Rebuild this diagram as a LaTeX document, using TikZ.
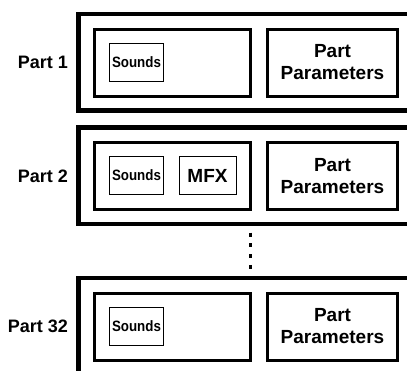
\documentclass[tikz,border=0pt]{standalone}
\usepackage{fontspec}
\setmainfont{Liberation Sans}
\newfontfamily\sndfont[FakeStretch=0.89]{Liberation Sans}
\begin{document}
\begin{tikzpicture}[x=1pt,y=-1pt,
  outerbox/.style={draw, line width=4.5pt, rectangle, inner sep=0pt, outer sep=0pt, minimum width=351.5pt, minimum height=96.5pt},
  innerbox/.style={draw, line width=3pt, rectangle, inner sep=0pt, outer sep=0pt, minimum width=156.5pt, minimum height=67pt},
  parambox/.style={draw, line width=3pt, rectangle, inner sep=0pt, outer sep=0pt, minimum width=130pt, minimum height=67pt, align=center, font=\fontsize{19}{22}\selectfont\bfseries},
  soundbox/.style={draw, line width=0.9pt, rectangle, inner sep=0pt, outer sep=0pt, minimum width=54pt, minimum height=38pt, font=\fontsize{15}{18}\sndfont\bfseries},
  mfxbox/.style={draw, line width=0.9pt, rectangle, inner sep=0pt, outer sep=0pt, minimum width=57pt, minimum height=38pt, font=\fontsize{19}{22}\selectfont\bfseries},
  partlabel/.style={anchor=east, inner sep=0pt, font=\fontsize{18}{21}\selectfont\bfseries}]
\useasboundingbox (0,0) rectangle (407,370);
\clip (0,0) rectangle (407,370);
% Part 1
\node[outerbox] (o1) at (254.25,62.25) {};
\node[innerbox] (i1) at (172.25,62.5) {};
\node[parambox] (p1) at (332.5,62.5) {Part\\Parameters};
\node[soundbox] (s1) at (136.5,62) {Sounds};
\node[partlabel] (l1) at (68,62.5) {Part 1};
% Part 2
\node[outerbox] (o2) at (254.25,175.75) {};
\node[innerbox] (i2) at (172.25,176) {};
\node[parambox] (p2) at (332.5,176) {Part\\Parameters};
\node[soundbox] (s2) at (136.5,175.5) {Sounds};
\node[mfxbox] (m2) at (207.5,175.5) {MFX};
\node[partlabel] (l2) at (68,176) {Part 2};
% Part 32
\node[outerbox] (o3) at (254.25,326.25) {};
\node[innerbox] (i3) at (172.25,326.5) {};
\node[parambox] (p3) at (332.5,326.5) {Part\\Parameters};
\node[soundbox] (s3) at (136.5,326) {Sounds};
\node[partlabel] (l3) at (68,326.5) {Part 32};
% dots
\coordinate (d1) at (250.5,232.7);
\coordinate (d2) at (250.5,269);
\draw[line width=3.2pt, dash pattern=on 4pt off 6.7pt] (d1) -- (d2);
\end{tikzpicture}
\end{document}
